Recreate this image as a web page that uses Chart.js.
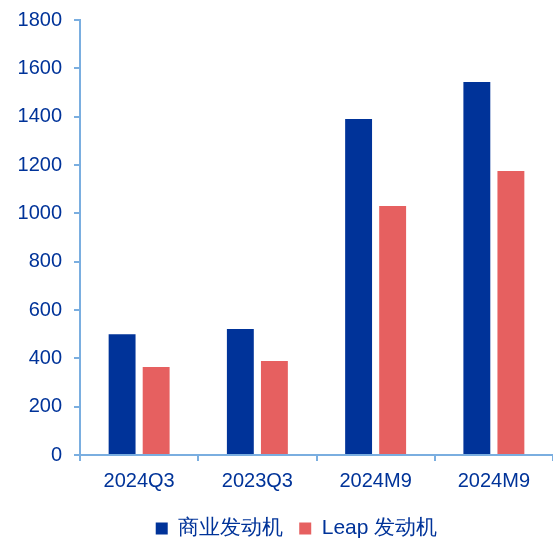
<!DOCTYPE html>
<html>
<head>
<meta charset="utf-8">
<script src="https://cdn.jsdelivr.net/npm/chart.js@4/dist/chart.umd.min.js"></script>
<style>
  html, body { margin: 0; padding: 0; background: #fff; overflow: hidden; }
  #wrap { width: 553px; height: 549px; }
</style>
</head>
<body>
<div id="wrap"><canvas id="engineChart"></canvas></div>
<script>
// 发动机交付量
const categories = ['2024Q3', '2023Q3', '2024M9', '2024M9'];
const commercialEngines = [500, 521, 1390, 1543];
const leapEngines = [364, 389, 1030, 1175];
const yTicks = [0, 200, 400, 600, 800, 1000, 1200, 1400, 1600, 1800];

const axisColor = '#7aaee0';
const textColor = '#003399';
const fontFamily = "'Liberation Sans', Arial, sans-serif";

// 图例整体右移一点
const legendShift = {
    id: 'legendShift',
    afterLayout(chart) {
        const lg = chart.legend;
        if (!lg) return;
        lg.left += 20;
        lg.right += 20;
    }
};

const ctx = document.getElementById('engineChart').getContext('2d');
const engineChart = new Chart(ctx, {
    type: 'bar',
    data: {
        labels: categories,
        datasets: [{
            label: '商业发动机',
            data: commercialEngines,
            backgroundColor: '#003399',
            categoryPercentage: 0.576,
            barPercentage: 0.79
        }, {
            label: 'Leap 发动机',
            data: leapEngines,
            backgroundColor: '#e66060',
            categoryPercentage: 0.576,
            barPercentage: 0.79
        }]
    },
    plugins: [legendShift],
    options: {
        responsive: true,
        maintainAspectRatio: false,
        animation: false,
        layout: {
            padding: { top: 20, right: 0, left: 0, bottom: 0 }
        },
        plugins: {
            legend: {
                position: 'bottom',
                labels: {
                    color: textColor,
                    font: { family: fontFamily, size: 21 },
                    boxWidth: 12,
                    boxHeight: 12,
                    padding: 16
                }
            },
            tooltip: { enabled: false }
        },
        scales: {
            x: {
                afterFit: scale => { scale.height = 47; },
                border: { color: axisColor, width: 2 },
                grid: {
                    offset: true,
                    drawOnChartArea: false,
                    color: axisColor,
                    lineWidth: 2,
                    tickLength: 6
                },
                ticks: {
                    color: textColor,
                    font: { family: fontFamily, size: 20 },
                    padding: 8
                }
            },
            y: {
                min: 0,
                max: 1800,
                afterFit: scale => {
                    scale.width = 80;
                    scale.paddingTop = 0;
                    scale.paddingBottom = 0;
                },
                afterBuildTicks: scale => {
                    scale.ticks = yTicks.map(v => ({ value: v }));
                },
                border: { color: axisColor, width: 2 },
                grid: {
                    drawOnChartArea: false,
                    color: axisColor,
                    lineWidth: 2,
                    tickLength: 6
                },
                ticks: {
                    color: textColor,
                    font: { family: fontFamily, size: 20 },
                    padding: 12,
                    callback: v => String(v)
                }
            }
        }
    }
});
</script>
</body>
</html>
